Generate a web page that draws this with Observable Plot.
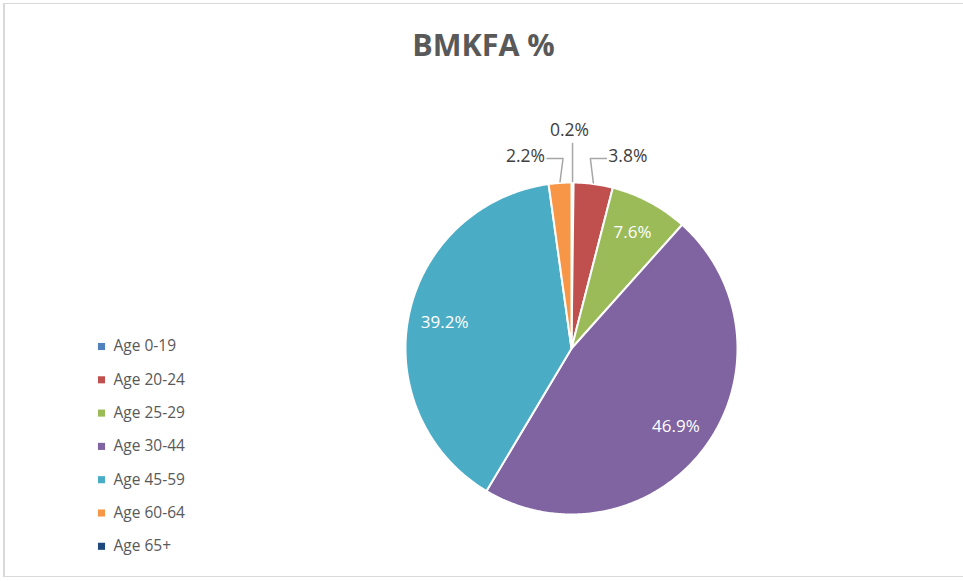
<!DOCTYPE html>
<html>
<head>
<meta charset="utf-8">
<script src="https://cdn.jsdelivr.net/npm/d3@7"></script>
<script src="https://cdn.jsdelivr.net/npm/@observablehq/plot@0.6"></script>
<style>
  html, body { margin: 0; padding: 0; background: #fff; overflow: hidden; }
  #wrap { position: relative; width: 963px; height: 581px; }
  #frame { position: absolute; left: 3px; top: 3px; width: 980px; height: 574px;
           border-left: 2px solid #d9d9d9; border-top: 1px solid #d9d9d9; border-bottom: 1px solid #d9d9d9; box-sizing: border-box; pointer-events: none; }
  svg { font-family: "Open Sans", Lato, sans-serif; }
</style>
</head>
<body>
<div id="wrap"><div id="chart"></div><div id="frame"></div></div>
<script>
const title = "BMKFA %";
const categories = ["Age 0-19", "Age 20-24", "Age 25-29", "Age 30-44", "Age 45-59", "Age 60-64", "Age 65+"];
const values = [0.2, 3.8, 7.6, 46.9, 39.2, 2.2, 0.0];
const colors = ["#4f81bd", "#c0504d", "#9bbb59", "#8064a2", "#4bacc6", "#f79646", "#1f497d"];

const W = 963, H = 581;
const cx = 571, cy = 348, R = 166;
const fmt = v => v.toFixed(1) + "%";

const arcs = d3.pie().sort(null).value(d => d)(values);

// slice polygons
const slicePts = [];
arcs.forEach((a, i) => {
  if (a.endAngle - a.startAngle <= 0) return;
  slicePts.push({cat: categories[i], x: cx, y: cy});
  const n = Math.max(2, Math.ceil((a.endAngle - a.startAngle) / 0.01));
  for (let k = 0; k <= n; k++) {
    const t = a.startAngle + (a.endAngle - a.startAngle) * k / n;
    slicePts.push({cat: categories[i], x: cx + R * Math.sin(t), y: cy - R * Math.cos(t)});
  }
  slicePts.push({cat: categories[i], x: cx, y: cy});
});

// labels
const inside = [], leaders = [], outMid = [], outStart = [], outEnd = [];
arcs.forEach((a, i) => {
  const v = values[i];
  if (v <= 0) return;
  const m = (a.startAngle + a.endAngle) / 2;
  if (v >= 5) {
    inside.push({x: cx + 0.78 * R * Math.sin(m), y: cy - 0.79 * R * Math.cos(m), t: fmt(v)});
  } else {
    const px = cx + R * Math.sin(m);
    const py = cy - R * Math.cos(m) - 1;
    if (Math.abs(Math.sin(m)) < 0.03) {
      leaders.push({k: i, x: px, y: py}, {k: i, x: px, y: py - 38});
      outMid.push({x: px - 3, y: py - 51, t: fmt(v)});
    } else {
      const s = Math.sign(Math.sin(m));
      const ey = cy - R - 24;
      leaders.push({k: i, x: px, y: py}, {k: i, x: px - s * 3, y: ey}, {k: i, x: px + s * 13, y: ey});
      (s > 0 ? outStart : outEnd).push({x: px + s * 15, y: ey - 2, t: fmt(v)});
    }
  }
});

const legend = categories.map((c, i) => ({c, i}));

const plot = Plot.plot({
  width: W, height: H,
  margin: 0,
  x: {domain: [0, W], range: [0, W], axis: null},
  y: {domain: [0, H], range: [0, H], axis: null},
  color: {domain: categories, range: colors},
  marks: [
    Plot.line(slicePts, {x: "x", y: "y", z: "cat", fill: "cat", stroke: "white", strokeWidth: 2, strokeLinejoin: "round"}),
    Plot.line(leaders, {x: "x", y: "y", z: "k", stroke: "#a6a6a6", strokeWidth: 1.5}),
    Plot.text(inside, {x: "x", y: "y", text: "t", fill: "white", fontSize: 17}),
    Plot.text(outMid, {x: "x", y: "y", text: "t", fill: "#404040", fontSize: 17.5, textAnchor: "middle"}),
    Plot.text(outStart, {x: "x", y: "y", text: "t", fill: "#404040", fontSize: 17.5, textAnchor: "start"}),
    Plot.text(outEnd, {x: "x", y: "y", text: "t", fill: "#404040", fontSize: 17.5, textAnchor: "end"}),
    Plot.text([title], {x: () => 483, y: () => 46, text: d => d, fill: "#595959", fontSize: 30.5, fontWeight: "bold"}),
    Plot.dot(legend, {x: () => 101, y: d => 346 + d.i * 33.3, symbol: "square", r: 4, fill: "c", stroke: null}),
    Plot.text(legend, {x: () => 113, y: d => 346 + d.i * 33.3, text: "c", fill: "#595959", fontSize: 15.5, textAnchor: "start"})
  ]
});
document.getElementById("chart").appendChild(plot);
</script>
</body>
</html>
